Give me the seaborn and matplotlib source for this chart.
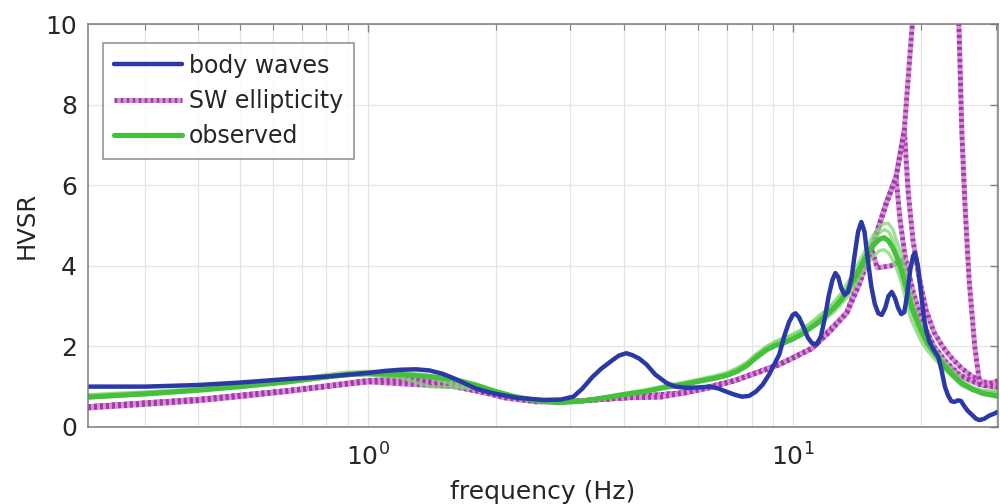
import math
import matplotlib
matplotlib.use("Agg")
import matplotlib.pyplot as plt
import seaborn as sns
from matplotlib.ticker import FixedLocator, FuncFormatter, NullFormatter, LogLocator
from matplotlib.lines import Line2D

# ---- body-wave HVSR ----
f_body = [0.22, 0.3, 0.4, 0.5, 0.65, 0.8, 1.0, 1.1, 1.2, 1.3,
          1.4, 1.5, 1.6, 1.7, 1.8, 1.9, 2.0, 2.25, 2.6, 2.85,
          3.05, 3.2, 3.38, 3.55, 3.77, 3.9, 4.06, 4.2, 4.35, 4.53,
          4.75, 5.05, 5.3, 5.6, 6.0, 6.4, 6.7, 7.0, 7.3, 7.6,
          7.9, 8.2, 8.5, 8.8, 9.05, 9.3, 9.55, 9.8, 10.0, 10.15,
          10.35, 10.6, 10.85, 11.1, 11.4, 11.65, 11.9, 12.15, 12.4, 12.6,
          12.8, 13.0, 13.25, 13.5, 13.75, 14.0, 14.25, 14.5, 14.75, 15.0,
          15.3, 15.6, 15.9, 16.2, 16.5, 16.8, 17.1, 17.4, 17.7, 18.0,
          18.3, 18.6, 18.9, 19.2, 19.4, 19.7, 20.0, 20.3, 20.6, 21.0,
          21.5, 22.0, 22.4, 22.8, 23.2, 23.6, 24.0, 24.5, 24.9, 25.3,
          25.8, 26.4, 27.0, 27.5, 28.2, 29.0, 29.8, 30.5]
v_body = [1.0, 1.0, 1.04, 1.1, 1.19, 1.25, 1.34, 1.39, 1.42, 1.43,
          1.4, 1.32, 1.2, 1.07, 0.95, 0.88, 0.82, 0.72, 0.67, 0.68,
          0.75, 0.95, 1.24, 1.45, 1.66, 1.77, 1.83, 1.78, 1.7, 1.55,
          1.3, 1.09, 1.0, 0.97, 0.98, 1.0, 0.95, 0.87, 0.8, 0.75,
          0.77, 0.88, 1.05, 1.3, 1.55, 1.8, 2.25, 2.6, 2.78, 2.82,
          2.72, 2.48, 2.22, 2.08, 2.05, 2.25, 2.7, 3.25, 3.65, 3.82,
          3.72, 3.45, 3.28, 3.35, 3.7, 4.3, 4.85, 5.09, 4.85, 4.2,
          3.5, 3.05, 2.82, 2.78, 2.95, 3.25, 3.35, 3.2, 2.95, 2.8,
          2.85, 3.3, 3.9, 4.25, 4.32, 4.0, 3.4, 2.8, 2.4, 2.1,
          1.9, 1.74, 1.4, 1.0, 0.78, 0.64, 0.62, 0.66, 0.64, 0.52,
          0.4, 0.3, 0.2, 0.17, 0.2, 0.28, 0.33, 0.38]

# ---- surface-wave ellipticity (several models) ----
f_sw1 = [0.22, 0.3, 0.4, 0.5, 0.65, 0.8, 1.0, 1.2, 1.5, 1.8, 2.1, 2.5, 3.0, 3.5,
         4.0, 4.9, 5.6, 6.4, 7.3, 8.4, 9.3, 10.2, 11.1, 12.2, 13.4, 14.3, 15.1,
         15.9, 16.6, 17.5, 18.3, 19.1, 19.8, 20.8, 22.0, 23.2, 24.1, 24.6, 25.0,
         25.4, 26.0, 26.8, 27.5, 28.3, 29.5, 30.5]
v_sw1 = [0.47, 0.56, 0.65, 0.75, 0.88, 1.0, 1.15, 1.2, 1.1, 0.9, 0.72, 0.62,
         0.63, 0.68, 0.72, 0.74, 0.85, 0.97, 1.15, 1.37, 1.55, 1.75, 1.95, 2.35,
         2.83, 3.5, 4.2, 4.95, 5.56, 6.2, 7.37, 9.98, 14.0, 25.0, 40.0, 25.0,
         13.0, 10.0, 7.3, 5.6, 3.65, 2.0, 1.1, 1.02, 1.1, 1.15]

f_sw2 = [0.22, 0.4, 0.65, 1.0, 1.3, 1.6, 2.0, 2.5, 3.0, 4.0, 5.6, 7.3, 9.3, 11.1,
         13.4, 15.1, 16.6, 17.5, 18.3, 18.7, 19.2, 19.8, 20.6, 21.5, 22.5, 23.7,
         25.0, 26.5, 28.0, 30.5]
v_sw2 = [0.5, 0.68, 0.9, 1.15, 1.12, 1.0, 0.8, 0.63, 0.63, 0.72, 0.85, 1.15,
         1.55, 1.95, 2.83, 4.2, 5.56, 6.2, 7.37, 5.8, 4.6, 3.75, 2.9, 2.35, 2.0,
         1.7, 1.45, 1.25, 1.12, 1.05]

f_sw3 = [0.22, 0.4, 0.65, 1.0, 1.3, 1.6, 2.0, 2.5, 3.0, 4.0, 5.6, 7.3, 9.3, 11.1,
         13.4, 15.1, 16.6, 17.5, 17.9, 18.4, 19.2, 20.2, 21.5, 23.0, 25.0, 27.5,
         30.5]
v_sw3 = [0.5, 0.68, 0.9, 1.12, 1.18, 1.05, 0.82, 0.64, 0.63, 0.72, 0.85, 1.15,
         1.55, 1.95, 2.83, 4.2, 5.56, 6.2, 5.1, 4.2, 3.35, 2.6, 2.0, 1.6, 1.25,
         1.05, 0.97]

f_sw4 = [0.22, 0.4, 0.65, 1.0, 1.3, 1.6, 2.0, 2.5, 3.0, 4.0, 5.6, 7.3, 9.3, 11.1,
         13.4, 14.6, 15.3, 15.8, 17.0, 18.2, 19.2, 20.5, 22.0, 24.0, 27.0, 30.5]
v_sw4 = [0.5, 0.68, 0.9, 1.12, 1.05, 1.0, 0.8, 0.63, 0.63, 0.72, 0.85, 1.15,
         1.55, 1.95, 2.83, 3.9, 4.45, 3.95, 4.0, 4.15, 3.0, 2.2, 1.7, 1.35, 1.1,
         1.0]

# ---- observed HVSR (main curve and individual recordings) ----
f_obs = [0.22, 0.3, 0.4, 0.5, 0.65, 0.8, 0.9, 1.0, 1.2, 1.4,
         1.6, 1.8, 2.0, 2.2, 2.5, 2.8, 3.2, 3.6, 4.0, 4.5,
         5.0, 5.5, 6.0, 6.5, 7.0, 7.4, 7.8, 8.2, 8.7, 9.1,
         9.5, 10.0, 10.5, 11.0, 11.5, 12.0, 12.5, 13.0, 13.5, 14.0,
         14.5, 15.0, 15.5, 16.0, 16.4, 16.8, 17.2, 17.6, 18.0, 18.5,
         19.0, 19.5, 20.0, 20.7, 21.5, 22.2, 23.0, 24.0, 25.0, 26.5,
         28.0, 30.5]
v_obs = [0.74, 0.82, 0.91, 1.0, 1.12, 1.24, 1.3, 1.32, 1.3, 1.25,
         1.18, 1.04, 0.88, 0.76, 0.65, 0.6, 0.64, 0.72, 0.8, 0.88,
         0.98, 1.05, 1.13, 1.2, 1.28, 1.38, 1.52, 1.72, 1.92, 2.02,
         2.08, 2.18, 2.3, 2.45, 2.6, 2.78, 2.95, 3.15, 3.4, 3.7,
         4.0, 4.3, 4.52, 4.66, 4.7, 4.62, 4.45, 4.2, 3.9, 3.45,
         3.0, 2.7, 2.42, 2.1, 1.85, 1.65, 1.45, 1.25, 1.08, 0.93,
         0.83, 0.76]
v_obs_a = [0.8, 0.87, 0.95, 1.03, 1.14, 1.28, 1.34, 1.36, 1.33, 1.22,
           1.05, 0.96, 0.86, 0.75, 0.64, 0.6, 0.65, 0.74, 0.83, 0.92,
           1.02, 1.1, 1.18, 1.26, 1.35, 1.46, 1.6, 1.8, 2.0, 2.12,
           2.2, 2.3, 2.42, 2.58, 2.72, 2.9, 3.1, 3.32, 3.6, 3.9,
           4.2, 4.5, 4.78, 4.95, 5.05, 5.05, 4.9, 4.6, 4.3, 3.8,
           3.25, 2.85, 2.52, 2.2, 1.95, 1.75, 1.55, 1.35, 1.15, 0.98,
           0.9, 0.85]
v_obs_b = [0.72, 0.8, 0.9, 0.98, 1.1, 1.22, 1.27, 1.3, 1.22, 1.0,
           0.98, 0.95, 0.85, 0.74, 0.63, 0.6, 0.63, 0.71, 0.8, 0.88,
           0.97, 1.04, 1.12, 1.2, 1.3, 1.42, 1.55, 1.75, 1.95, 2.08,
           2.15, 2.25, 2.35, 2.45, 2.55, 2.7, 2.85, 3.05, 3.25, 3.5,
           3.8, 4.05, 4.25, 4.38, 4.4, 4.32, 4.15, 3.9, 3.6, 3.1,
           2.65, 2.4, 2.15, 1.9, 1.7, 1.55, 1.38, 1.2, 1.02, 0.9,
           0.84, 0.8]
v_obs_c = [0.78, 0.85, 0.93, 1.02, 1.15, 1.3, 1.36, 1.38, 1.36, 1.28,
           1.15, 1.02, 0.9, 0.78, 0.66, 0.62, 0.66, 0.74, 0.82, 0.9,
           1.0, 1.08, 1.16, 1.24, 1.32, 1.45, 1.6, 1.8, 2.0, 2.1,
           2.2, 2.28, 2.4, 2.55, 2.75, 2.9, 3.05, 3.25, 3.5, 3.8,
           4.1, 4.4, 4.65, 4.82, 4.9, 4.85, 4.65, 4.35, 4.0, 3.5,
           2.9, 2.55, 2.3, 2.0, 1.8, 1.6, 1.42, 1.25, 1.08, 0.95,
           0.9, 0.88]

labels = ["body waves", "SW ellipticity", "observed"]
x_ticks_major = [1, 10]
y_ticks = [0, 2, 4, 6, 8, 10]

BLUE = "#2a38a8"
MAG_DARK = "#a03ca6"
MAG_LIGHT = "#dc8fdc"
GREEN = "#45c03a"
GREEN_LIGHT = "#7fd672"

sns.set_theme(style="white")
plt.rcParams["font.family"] = ["DejaVu Sans"]

fig = plt.figure(figsize=(10, 5.04), dpi=100)
ax = fig.add_axes([0.088, 0.153, 0.910, 0.799])
ax.set_xscale("log")

sw_style = dict(color=MAG_DARK, lw=3.6, linestyle=(0, (0.6, 0.6)),
                gapcolor=MAG_LIGHT)
for fx, vy in [(f_sw2, v_sw2), (f_sw3, v_sw3), (f_sw4, v_sw4), (f_sw1, v_sw1)]:
    sns.lineplot(x=fx, y=vy, ax=ax, estimator=None, sort=False, **sw_style)

for vy in [v_obs_a, v_obs_b, v_obs_c]:
    sns.lineplot(x=f_obs, y=vy, ax=ax, estimator=None, sort=False,
                 color=GREEN_LIGHT, lw=2.4, alpha=0.75)
sns.lineplot(x=f_obs, y=v_obs, ax=ax, estimator=None, sort=False,
             color=GREEN, lw=3.7)

sns.lineplot(x=f_body, y=v_body, ax=ax, estimator=None, sort=False,
             color=BLUE, lw=3.2)

ax.set_xlim(0.22, 30.4)
ax.set_ylim(0, 10)

ax.xaxis.set_major_locator(FixedLocator(x_ticks_major))
ax.xaxis.set_major_formatter(
    FuncFormatter(lambda v, p: r"$\mathregular{10^{%d}}$" % round(math.log10(v))))
ax.xaxis.set_minor_locator(LogLocator(base=10, subs=range(2, 10)))
ax.xaxis.set_minor_formatter(NullFormatter())
ax.set_yticks(y_ticks)

ax.grid(True, which="both", axis="x", color="#e4e4e4", lw=0.9)
ax.grid(True, which="major", axis="y", color="#e4e4e4", lw=0.9)
ax.set_axisbelow(True)

ax.tick_params(which="both", direction="in", top=True, right=True,
               color="#808080", labelsize=18)
ax.tick_params(which="major", length=6, width=1, pad=8)
ax.tick_params(axis="x", which="major", pad=12)
ax.tick_params(which="minor", length=4, width=0.8)
for s in ax.spines.values():
    s.set_color("#7a7a7a")
    s.set_linewidth(1.1)

ax.set_xlabel("frequency (Hz)", fontsize=18, labelpad=7)
ax.set_ylabel("HVSR", fontsize=17.5, labelpad=5)

handles = [
    Line2D([], [], color=BLUE, lw=3.2),
    Line2D([], [], **sw_style),
    Line2D([], [], color=GREEN, lw=3.7),
]
leg = ax.legend(handles, labels, loc="upper left", bbox_to_anchor=(0.0165, 0.953),
                borderaxespad=0, fontsize=17, handlelength=2.9, handletextpad=0.3,
                labelspacing=0.48, borderpad=0.45, frameon=True, fancybox=False)
leg.get_frame().set_edgecolor("#707070")
leg.get_frame().set_linewidth(1.1)

fig.savefig("out.png", dpi=100)
